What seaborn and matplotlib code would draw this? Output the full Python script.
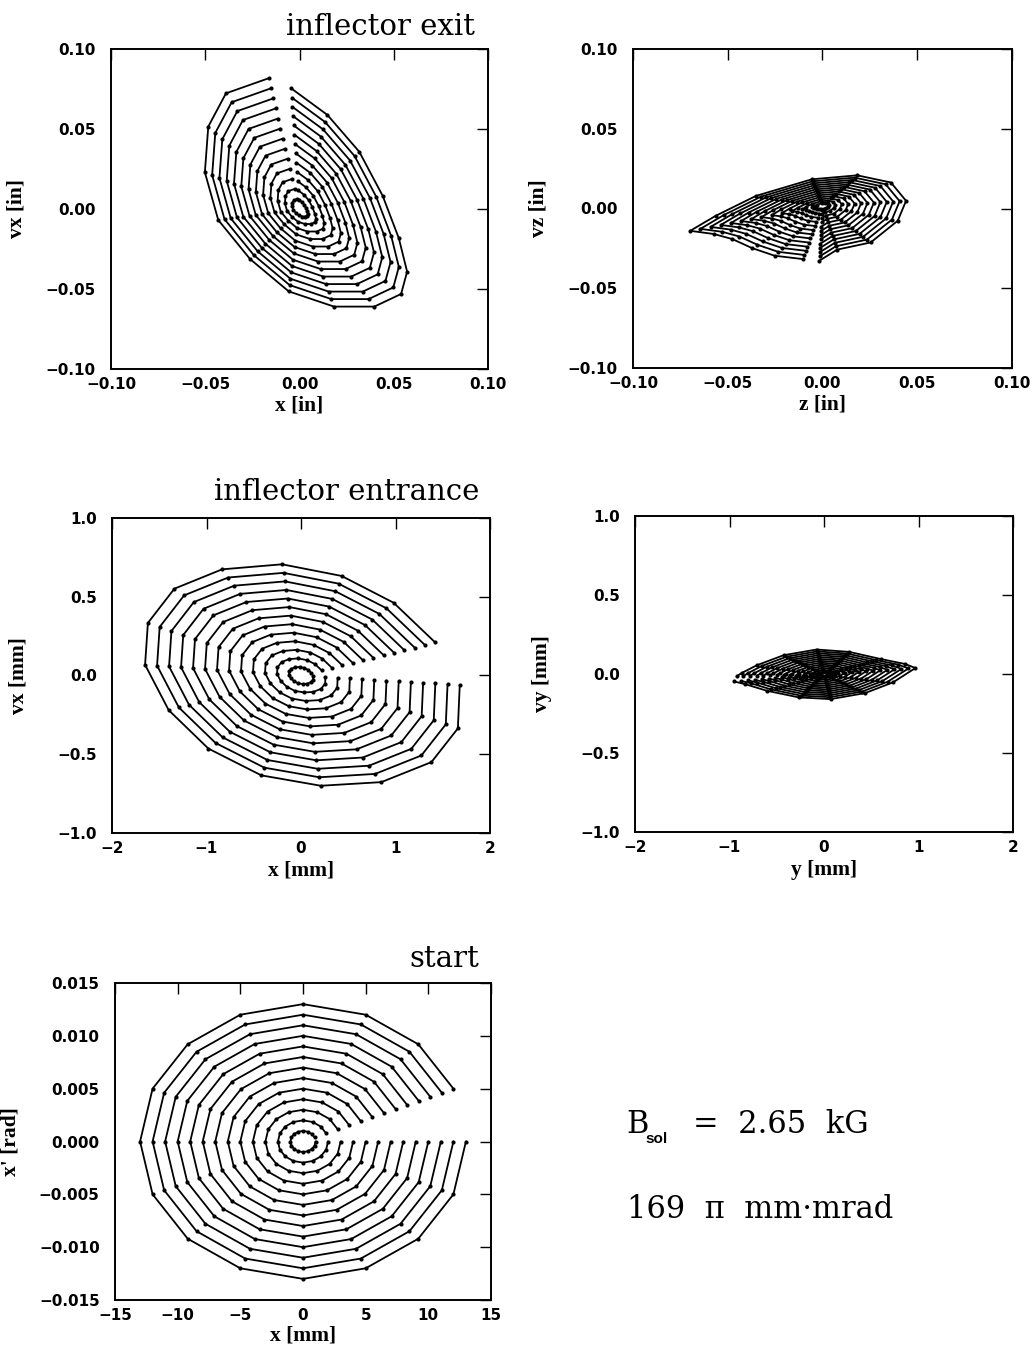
import numpy as np
import pandas as pd
import matplotlib
matplotlib.use("Agg")
import matplotlib.pyplot as plt
from matplotlib.ticker import FixedLocator, FuncFormatter
import seaborn as sns

# ---------------------------------------------------------------------------
# Phase-space ellipses: each panel stores the 16 vertices of its outermost
# ring (gap between last and first vertex); inner rings are the same
# particle set at smaller amplitudes.
# ---------------------------------------------------------------------------
ring_amplitude = [1, 2, 3, 4, 5, 6, 7, 8, 9, 10, 11, 12, 13]   # mm at start
outer_amplitude = 13

# start: x [mm], x' [rad]
start_x = [13.0, 12.0, 9.2, 5.0, 0.0, -5.0, -9.2, -12.0,
           -13.0, -12.0, -9.2, -5.0, 0.0, 5.0, 9.2, 12.0]
start_xp = [0.0, -0.005, -0.0092, -0.012, -0.013, -0.012, -0.0092, -0.005,
            0.0, 0.005, 0.0092, 0.012, 0.013, 0.012, 0.0092, 0.005]

# inflector entrance: x [mm], vx [mm]
entr_x = [1.68, 1.66, 1.38, 0.85, 0.21, -0.42, -0.98, -1.40,
          -1.65, -1.62, -1.34, -0.835, -0.20, 0.43, 0.98, 1.42]
entr_vx = [-0.06, -0.336, -0.55, -0.677, -0.70, -0.634, -0.464, -0.22,
           0.068, 0.334, 0.551, 0.674, 0.706, 0.632, 0.462, 0.21]

# inflector entrance: y [mm], vy [mm]
entr_y = [-0.954, -0.836, -0.605, -0.267, 0.071, 0.434, 0.730, 0.968,
          0.854, 0.598, 0.267, -0.078, -0.427, -0.712, -0.872, -0.925]
entr_vy = [-0.047, -0.064, -0.106, -0.148, -0.159, -0.121, -0.053, 0.038,
           0.064, 0.095, 0.140, 0.155, 0.119, 0.055, 0.006, -0.015]

# inflector exit: x [in], vx [in]
exit_x = [-0.0044, 0.0148, 0.0317, 0.0441, 0.0527, 0.0571, 0.0539, 0.0397,
          0.0183, -0.0057, -0.0262, -0.0431, -0.0502, -0.0484, -0.0390, -0.0164]
exit_vx = [0.0754, 0.0588, 0.0358, 0.0083, -0.0183, -0.0392, -0.0531, -0.0610,
           -0.0610, -0.0515, -0.0313, -0.0069, 0.0229, 0.0515, 0.0723, 0.0817]

# inflector exit: z [in], vz [in]
exit_z = [-0.0016, 0.0077, 0.0254, 0.0397, 0.0441, 0.0361, 0.0183, -0.0057,
          -0.0351, -0.0564, -0.0698, -0.0573, -0.0475, -0.0372, -0.0253, -0.0105]
exit_vz = [-0.0327, -0.0258, -0.0213, -0.0077, 0.0048, 0.0163, 0.0208, 0.0183,
           0.0079, -0.0046, -0.0140, -0.0160, -0.0192, -0.0248, -0.0296, -0.0317]
exit_z_centre = [0.0, 0.002]


def rings_frame(xs, ys, centre=(0.0, 0.0)):
    xs = np.asarray(xs, float)
    ys = np.asarray(ys, float)
    rows = []
    for a in ring_amplitude:
        f = a / outer_amplitude
        for i, (x, y) in enumerate(zip(xs, ys)):
            rows.append({"ring": a, "order": i,
                         "x": centre[0] + f * (x - centre[0]),
                         "y": centre[1] + f * (y - centre[1])})
    return pd.DataFrame(rows)


sns.set_style("white")
plt.rcParams.update({
    "text.color": "black",
    "axes.labelcolor": "black",
    "xtick.color": "black",
    "ytick.color": "black",
    "axes.edgecolor": "black",
    "axes.unicode_minus": True,
})

W, H = 1036, 1352
fig = plt.figure(figsize=(W / 100, H / 100), dpi=100)


def px_axes(left, top, right, bottom):
    return fig.add_axes([left / W, 1 - bottom / H, (right - left) / W, (bottom - top) / H])


tick_font = dict(family="DejaVu Sans", size=11, weight="bold")
label_font = dict(family="Liberation Serif", size=15.5, weight="bold")
title_font = dict(family="DejaVu Serif", size=21)


def fmt(decimals):
    def f(v, pos):
        s = f"{v:.{decimals}f}"
        if float(s) == 0:
            s = s.lstrip("-")
        return s.replace("-", "\u2212")
    return FuncFormatter(f)


def style(ax, xlim, ylim, xt, yt, xdec, ydec, xlabel, ylabel, ylab_x, xlab_y):
    ax.set_xlim(*xlim)
    ax.set_ylim(*ylim)
    ax.xaxis.set_major_locator(FixedLocator(xt))
    ax.yaxis.set_major_locator(FixedLocator(yt))
    ax.xaxis.set_major_formatter(fmt(xdec))
    ax.yaxis.set_major_formatter(fmt(ydec))
    ax.tick_params(direction="in", length=8, width=1.0, top=True, right=True,
                   color="black", labelcolor="black")
    ax.tick_params(axis="y", pad=11)
    ax.tick_params(axis="x", pad=6)
    for lab in ax.get_xticklabels() + ax.get_yticklabels():
        lab.set_fontfamily(tick_font["family"])
        lab.set_fontsize(tick_font["size"])
        lab.set_fontweight(tick_font["weight"])
    for sp in ax.spines.values():
        sp.set_visible(True)
        sp.set_linewidth(1.4)
        sp.set_color("black")
    ax.set_xlabel(xlabel, **label_font)
    ax.set_ylabel(ylabel, **label_font)
    ax.yaxis.set_label_coords(ylab_x, 0.5)
    ax.xaxis.set_label_coords(0.5, xlab_y)
    ax.grid(False)


def draw(ax, df):
    sns.lineplot(data=df, x="x", y="y", units="ring", estimator=None, sort=False,
                 color="black", lw=1.3, marker="o", markersize=3.0,
                 markeredgewidth=0, ax=ax, legend=False)


# --- inflector exit, x plane ---
ax1 = px_axes(111, 49, 488, 369)
draw(ax1, rings_frame(exit_x, exit_vx))
style(ax1, (-0.1, 0.1), (-0.1, 0.1), [-0.1, -0.05, 0, 0.05, 0.1],
      [-0.1, -0.05, 0, 0.05, 0.1], 2, 2, "x [in]", "vx [in]", -0.225, -0.082)
ax1.text(0.966, 1.044, "inflector exit", transform=ax1.transAxes,
         ha="right", va="baseline", **title_font)

# --- inflector exit, z plane ---
ax2 = px_axes(633, 49, 1012, 368)
draw(ax2, rings_frame(exit_z, exit_vz, exit_z_centre))
style(ax2, (-0.1, 0.1), (-0.1, 0.1), [-0.1, -0.05, 0, 0.05, 0.1],
      [-0.1, -0.05, 0, 0.05, 0.1], 2, 2, "z [in]", "vz [in]", -0.222, -0.082)

# --- inflector entrance, x plane ---
ax3 = px_axes(112, 518, 490, 833)
draw(ax3, rings_frame(entr_x, entr_vx))
style(ax3, (-2, 2), (-1, 1), [-2, -1, 0, 1, 2], [-1, -0.5, 0, 0.5, 1],
      0, 1, "x [mm]", "vx [mm]", -0.22, -0.088)
ax3.text(0.971, 1.057, "inflector entrance", transform=ax3.transAxes,
         ha="right", va="baseline", **title_font)

# --- inflector entrance, y plane ---
ax4 = px_axes(635, 516, 1013, 832)
draw(ax4, rings_frame(entr_y, entr_vy))
style(ax4, (-2, 2), (-1, 1), [-2, -1, 0, 1, 2], [-1, -0.5, 0, 0.5, 1],
      0, 1, "y [mm]", "vy [mm]", -0.22, -0.088)

# --- start ---
ax5 = px_axes(115, 983, 491, 1300)
draw(ax5, rings_frame(start_x, start_xp))
style(ax5, (-15, 15), (-0.015, 0.015), [-15, -10, -5, 0, 5, 10, 15],
      [-0.015, -0.010, -0.005, 0, 0.005, 0.010, 0.015],
      0, 3, "x [mm]", "x' [rad]", -0.25, -0.08)
ax5.text(0.968, 1.05, "start", transform=ax5.transAxes,
         ha="right", va="baseline", **title_font)

# --- beam parameters ---
ann = dict(family="DejaVu Serif", size=22)
fig.text(626 / W, 1 - 1133 / H, "B", ha="left", va="baseline", **ann)
fig.text(645 / W, 1 - 1143 / H, "sol", ha="left", va="baseline",
         family="Liberation Sans", size=11, weight="bold")
fig.text(693 / W, 1 - 1133 / H, "=  2.65  kG", ha="left", va="baseline", **ann)
fig.text(627 / W, 1 - 1218 / H, "169  \u03c0  mm\u00b7mrad", ha="left",
         va="baseline", **ann)

fig.savefig("out.png", dpi=100, facecolor="white")
